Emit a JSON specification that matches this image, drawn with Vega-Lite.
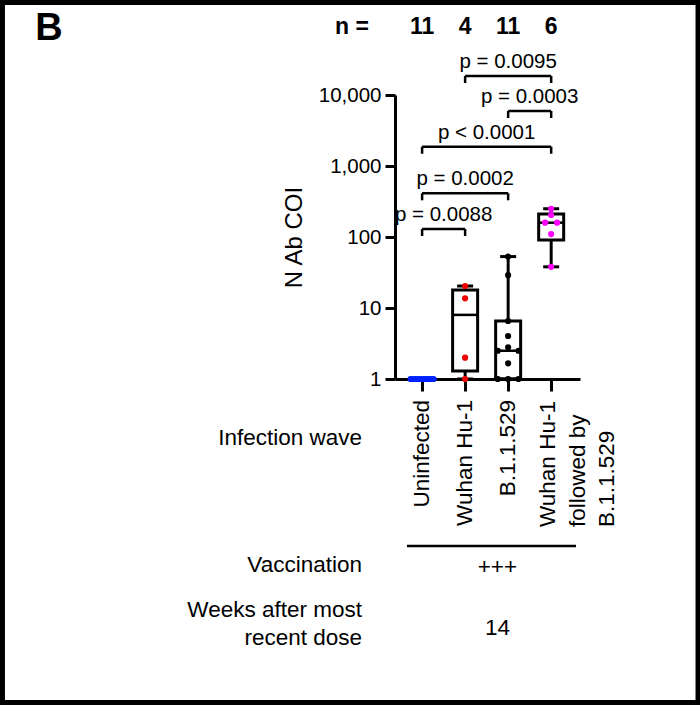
{
  "$schema": "https://vega.github.io/schema/vega-lite/v6.json",
  "width": 185,
  "height": 284,
  "autosize": {"type": "none"},
  "padding": {"left": 395, "top": 95, "right": 120, "bottom": 327},
  "background": "white",
  "config": {
    "font": "Liberation Sans",
    "view": {"stroke": null},
    "axis": {"domainColor": "black", "domainWidth": 3, "tickColor": "black", "tickWidth": 3, "labelColor": "black", "titleColor": "black", "grid": false, "labelFlush": false}
  },
  "datasets": {
    "points": [
      {"grp": "Uninfected", "g": 1, "v": 1, "j": -5},
      {"grp": "Uninfected", "g": 1, "v": 1, "j": -4},
      {"grp": "Uninfected", "g": 1, "v": 1, "j": -3},
      {"grp": "Uninfected", "g": 1, "v": 1, "j": -2},
      {"grp": "Uninfected", "g": 1, "v": 1, "j": -1},
      {"grp": "Uninfected", "g": 1, "v": 1, "j": 0},
      {"grp": "Uninfected", "g": 1, "v": 1, "j": 1},
      {"grp": "Uninfected", "g": 1, "v": 1, "j": 2},
      {"grp": "Uninfected", "g": 1, "v": 1, "j": 3},
      {"grp": "Uninfected", "g": 1, "v": 1, "j": 4},
      {"grp": "Uninfected", "g": 1, "v": 1, "j": 5},
      {"grp": "Wuhan Hu-1", "g": 2, "v": 20.4, "j": 0},
      {"grp": "Wuhan Hu-1", "g": 2, "v": 13.7, "j": 0},
      {"grp": "Wuhan Hu-1", "g": 2, "v": 2.0, "j": 0},
      {"grp": "Wuhan Hu-1", "g": 2, "v": 1, "j": 0},
      {"grp": "B.1.1.529", "g": 3, "v": 53, "j": 0},
      {"grp": "B.1.1.529", "g": 3, "v": 29, "j": 0},
      {"grp": "B.1.1.529", "g": 3, "v": 6.56, "j": 0},
      {"grp": "B.1.1.529", "g": 3, "v": 4.03, "j": 0},
      {"grp": "B.1.1.529", "g": 3, "v": 2.8, "j": 0},
      {"grp": "B.1.1.529", "g": 3, "v": 2.5, "j": -4.5},
      {"grp": "B.1.1.529", "g": 3, "v": 2.5, "j": 4.5},
      {"grp": "B.1.1.529", "g": 3, "v": 1.66, "j": 0},
      {"grp": "B.1.1.529", "g": 3, "v": 1, "j": -4.5},
      {"grp": "B.1.1.529", "g": 3, "v": 1, "j": 0},
      {"grp": "B.1.1.529", "g": 3, "v": 1, "j": 4.5},
      {"grp": "Wuhan Hu-1 followed by B.1.1.529", "g": 4, "v": 250, "j": 0},
      {"grp": "Wuhan Hu-1 followed by B.1.1.529", "g": 4, "v": 204, "j": 0},
      {"grp": "Wuhan Hu-1 followed by B.1.1.529", "g": 4, "v": 159, "j": -2.6},
      {"grp": "Wuhan Hu-1 followed by B.1.1.529", "g": 4, "v": 159, "j": 2.6},
      {"grp": "Wuhan Hu-1 followed by B.1.1.529", "g": 4, "v": 110, "j": 0},
      {"grp": "Wuhan Hu-1 followed by B.1.1.529", "g": 4, "v": 38, "j": 0}
    ],
    "boxes": [
      {"g": 2, "min": 1, "q1": 1.3, "med": 8, "q3": 18, "max": 20.4},
      {"g": 3, "min": 1, "q1": 1, "med": 2.5, "q3": 6.56, "max": 53},
      {"g": 4, "min": 38, "q1": 91, "med": 159, "q3": 210, "max": 250}
    ],
    "brackets": [
      {"from": 1, "to": 2, "y": 129.7, "label": "p = 0.0088"},
      {"from": 1, "to": 3, "y": 412.6, "label": "p = 0.0002"},
      {"from": 1, "to": 4, "y": 1870, "label": "p < 0.0001"},
      {"from": 3, "to": 4, "y": 5951, "label": "p = 0.0003"},
      {"from": 2, "to": 4, "y": 18520, "label": "p = 0.0095"}
    ],
    "counts": [
      {"g": 1, "n": "11"},
      {"g": 2, "n": "4"},
      {"g": 3, "n": "11"},
      {"g": 4, "n": "6"}
    ]
  },
  "resolve": {"scale": {"x": "independent"}, "axis": {"x": "independent"}},
  "layer": [
    {
      "layer": [
        {
          "data": {"values": [{}]},
          "mark": {"type": "rect", "fill": "transparent", "stroke": "black", "strokeWidth": 5},
          "encoding": {
            "x": {"datum": -8.754, "type": "quantitative", "scale": {"domain": [0.37, 4.67], "nice": false, "zero": false, "padding": 0},
                  "axis": {"values": [1, 2, 3, 4], "labels": false, "tickSize": 12, "title": null}},
            "x2": {"datum": 7.413},
            "y": {"datum": 200900, "type": "quantitative", "scale": {"type": "log", "domain": [1, 10000], "nice": false, "padding": 0}},
            "y2": {"datum": 0.0000278}
          }
        },
        {
          "data": {"values": [{"t": "B"}]},
          "mark": {"type": "text", "fontSize": 38, "fontWeight": "bold", "align": "center", "baseline": "middle", "color": "black"},
          "encoding": {
            "text": {"field": "t"},
            "x": {"datum": -7.673, "type": "quantitative"},
            "y": {"datum": 85100, "type": "quantitative"}
          }
        },
        {
          "data": {"values": [{"t": "n ="}]},
          "mark": {"type": "text", "fontSize": 23, "fontWeight": "bold", "align": "center", "baseline": "middle", "color": "black"},
          "encoding": {
            "text": {"field": "t"},
            "x": {"datum": -0.63, "type": "quantitative"},
            "y": {"datum": 90000, "type": "quantitative"}
          }
        },
        {
          "data": {"name": "counts"},
          "mark": {"type": "text", "fontSize": 23, "fontWeight": "bold", "align": "center", "baseline": "middle", "color": "black"},
          "encoding": {
            "text": {"field": "n"},
            "x": {"field": "g", "type": "quantitative"},
            "y": {"datum": 90000, "type": "quantitative"}
          }
        },
        {
          "data": {"name": "brackets"},
          "mark": {"type": "rule", "strokeWidth": 2.5, "color": "black"},
          "encoding": {
            "x": {"field": "from", "type": "quantitative"},
            "x2": {"field": "to"},
            "y": {"field": "y", "type": "quantitative"}
          }
        },
        {
          "data": {"name": "brackets"},
          "transform": [{"fold": ["from", "to"], "as": ["end", "pos"]}],
          "mark": {"type": "tick", "orient": "vertical", "size": 7, "thickness": 2.5, "yOffset": 3.5, "color": "black", "opacity": 1},
          "encoding": {
            "x": {"field": "pos", "type": "quantitative"},
            "y": {"field": "y", "type": "quantitative"}
          }
        },
        {
          "data": {"name": "brackets"},
          "transform": [
            {"fold": ["from", "to"], "as": ["end", "pos"]},
            {"aggregate": [{"op": "mean", "field": "pos", "as": "mid"}], "groupby": ["label", "y"]}
          ],
          "mark": {"type": "text", "fontSize": 20.5, "align": "center", "baseline": "alphabetic", "dy": -8, "color": "black"},
          "encoding": {
            "text": {"field": "label"},
            "x": {"field": "mid", "type": "quantitative"},
            "y": {"field": "y", "type": "quantitative"}
          }
        },
        {
          "data": {"name": "boxes"},
          "mark": {"type": "rule", "strokeWidth": 3, "color": "black"},
          "encoding": {
            "x": {"field": "g", "type": "quantitative"},
            "y": {"field": "min", "type": "quantitative"},
            "y2": {"field": "max"}
          }
        },
        {
          "data": {"name": "boxes"},
          "mark": {"type": "bar", "width": 25, "fill": "white", "stroke": "black", "strokeWidth": 3, "opacity": 1},
          "encoding": {
            "x": {"field": "g", "type": "quantitative"},
            "y": {"field": "q1", "type": "quantitative"},
            "y2": {"field": "q3"}
          }
        },
        {
          "data": {"name": "boxes"},
          "mark": {"type": "tick", "orient": "horizontal", "size": 25, "thickness": 2.5, "color": "black", "opacity": 1},
          "encoding": {
            "x": {"field": "g", "type": "quantitative"},
            "y": {"field": "med", "type": "quantitative"}
          }
        },
        {
          "data": {"name": "boxes"},
          "mark": {"type": "tick", "orient": "horizontal", "size": 16, "thickness": 3, "color": "black", "opacity": 1},
          "encoding": {
            "x": {"field": "g", "type": "quantitative"},
            "y": {"field": "max", "type": "quantitative"}
          }
        },
        {
          "data": {"name": "boxes"},
          "mark": {"type": "tick", "orient": "horizontal", "size": 16, "thickness": 3, "color": "black", "opacity": 1},
          "encoding": {
            "x": {"field": "g", "type": "quantitative"},
            "y": {"field": "min", "type": "quantitative"}
          }
        },
        {
          "data": {"values": [{"g": 1, "label": "Uninfected"}, {"g": 2, "label": "Wuhan Hu-1"}, {"g": 3, "label": "B.1.1.529"}]},
          "mark": {"type": "text", "fontSize": 22.5, "angle": 270, "align": "right", "baseline": "middle", "color": "black"},
          "encoding": {
            "text": {"field": "label"},
            "x": {"field": "g", "type": "quantitative"},
            "y": {"datum": 0.506, "type": "quantitative"}
          }
        },
        {
          "data": {"values": [{"g": 4, "label": "Wuhan Hu-1\nfollowed by\nB.1.1.529"}]},
          "mark": {"type": "text", "fontSize": 22.5, "angle": 270, "align": "left", "baseline": "top", "lineBreak": "\n", "lineHeight": 29.5, "dy": -14, "color": "black"},
          "encoding": {
            "text": {"field": "label"},
            "x": {"field": "g", "type": "quantitative"},
            "y": {"datum": 0.00823, "type": "quantitative"}
          }
        },
        {
          "data": {"values": [{"t": "Infection wave"}]},
          "mark": {"type": "text", "fontSize": 22.5, "align": "right", "baseline": "middle", "color": "black"},
          "encoding": {
            "text": {"field": "t"},
            "x": {"datum": -0.397, "type": "quantitative"},
            "y": {"datum": 0.1476, "type": "quantitative"}
          }
        },
        {
          "data": {"values": [{"t": "Vaccination"}]},
          "mark": {"type": "text", "fontSize": 22.5, "align": "right", "baseline": "middle", "color": "black"},
          "encoding": {
            "text": {"field": "t"},
            "x": {"datum": -0.397, "type": "quantitative"},
            "y": {"datum": 0.0024, "type": "quantitative"}
          }
        },
        {
          "data": {"values": [{"t": "Weeks after most\nrecent dose"}]},
          "mark": {"type": "text", "fontSize": 22.5, "align": "right", "baseline": "top", "lineBreak": "\n", "lineHeight": 28, "color": "black"},
          "encoding": {
            "text": {"field": "t"},
            "x": {"datum": -0.397, "type": "quantitative"},
            "y": {"datum": 0.000797, "type": "quantitative"}
          }
        },
        {
          "data": {"values": [{}]},
          "mark": {"type": "rule", "strokeWidth": 2.5, "color": "black"},
          "encoding": {
            "x": {"datum": 0.649, "type": "quantitative"},
            "x2": {"datum": 4.577},
            "y": {"datum": 0.004446, "type": "quantitative"}
          }
        },
        {
          "data": {"values": [{"t": "+++"}]},
          "mark": {"type": "text", "fontSize": 22.5, "align": "center", "baseline": "middle", "color": "black"},
          "encoding": {
            "text": {"field": "t"},
            "x": {"datum": 2.75, "type": "quantitative"},
            "y": {"datum": 0.002214, "type": "quantitative"}
          }
        },
        {
          "data": {"values": [{"t": "14"}]},
          "mark": {"type": "text", "fontSize": 22.5, "align": "center", "baseline": "middle", "color": "black"},
          "encoding": {
            "text": {"field": "t"},
            "x": {"datum": 2.75, "type": "quantitative"},
            "y": {"datum": 0.000311, "type": "quantitative"}
          }
        }
      ]
    },
    {
      "data": {"name": "points"},
      "mark": {"type": "circle", "size": 38, "opacity": 1},
      "encoding": {
        "x": {"field": "g", "type": "ordinal", "scale": {"type": "band", "domain": [1, 2, 3, 4], "paddingInner": 0, "paddingOuter": 0.15, "align": 0.43}, "axis": null},
        "xOffset": {"field": "j", "type": "quantitative", "scale": {"domain": [-5, 5], "range": [10.01, 33.01]}},
        "y": {"field": "v", "type": "quantitative", "scale": {"type": "log", "domain": [1, 10000], "nice": false, "padding": 0},
              "axis": {"values": [1, 10, 100, 1000, 10000], "format": ",", "labelFontSize": 20.5, "tickSize": 10, "labelPadding": 4, "title": "N Ab COI", "titleFontSize": 24, "titleFontWeight": "normal", "titlePadding": 12}},
        "color": {"field": "grp", "type": "nominal", "legend": null,
                  "scale": {"domain": ["Uninfected", "Wuhan Hu-1", "B.1.1.529", "Wuhan Hu-1 followed by B.1.1.529"], "range": ["#0022ff", "#f00000", "black", "#ff00ff"]}}
      }
    }
  ]
}
